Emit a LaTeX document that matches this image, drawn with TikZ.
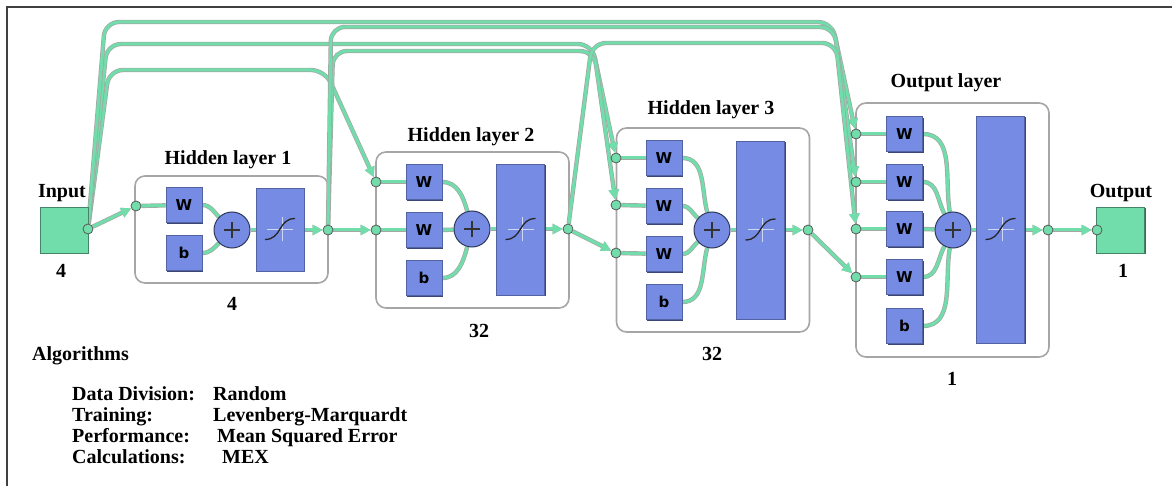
\documentclass[tikz,border=0pt]{standalone}
\usepackage{fontspec}
\setmainfont{Liberation Serif}
\newfontfamily\wfont{DejaVu Sans}
\usetikzlibrary{arrows.meta}
\usetikzlibrary{shadows}
\definecolor{netgreen}{RGB}{112,221,170}
\definecolor{netblue}{RGB}{118,140,228}
\pgfdeclarelayer{back}
\pgfdeclarelayer{mid}
\pgfsetlayers{back,mid,main}

\begin{document}
\begin{tikzpicture}[x=1pt, y=-1pt,
    lbl/.style={font=\fontsize{20}{24}\selectfont\bfseries, anchor=base, inner sep=0pt},
    alg/.style={lbl, anchor=base west},
    layer/.style={draw=black!35, line width=1.6pt, fill=white, rounded corners=10pt, minimum width=193pt, inner sep=0pt},
    bevel/.style={drop shadow={shadow xshift=1.3pt, shadow yshift=-1.3pt, fill=netblue!50!black, opacity=1}},
    wt/.style={draw=netblue!70!black, fill=netblue, line width=0.6pt, bevel, minimum width=36pt, minimum height=35pt, inner sep=0pt, font=\wfont\bfseries\fontsize{15}{15}\selectfont},
    tf/.style={draw=netblue!70!black, fill=netblue, line width=0.6pt, bevel, minimum width=48pt, inner sep=0pt},
    sumc/.style={circle, draw=netblue!40!black, fill=netblue, line width=1pt, minimum size=36pt, inner sep=0pt},
    port/.style={circle, draw=black!65, fill=netgreen, line width=0.8pt, minimum size=10pt, inner sep=0pt},
    io/.style={draw=netgreen!60!black, fill=netgreen, line width=0.6pt, drop shadow={shadow xshift=1.3pt, shadow yshift=-1.3pt, fill=netgreen!50!black, opacity=1}, minimum width=48pt, minimum height=46pt, inner sep=0pt},
    wire/.style={draw=netgreen, line width=3pt, preaction={draw=black!35, line width=4.4pt}},
    link/.style={wire, -{Triangle[length=10pt,width=10pt]}},
    skip/.style={link, rounded corners=14pt}]
  \useasboundingbox (0,0) rectangle (1172,486);
  % frame
  \draw[black!75, line width=2pt] (7,486) -- (7,7) -- (1172,7);

  % layer boxes
  \begin{pgfonlayer}{back}
    \node[layer, minimum height=107pt] (L1) at (231.5,229.5) {};
    \node[layer, minimum height=156pt] (L2) at (472.5,230) {};
    \node[layer, minimum height=204pt] (L3) at (713,230) {};
    \node[layer, minimum height=254pt] (L4) at (952.5,230) {};
  \end{pgfonlayer}

  % labels
  \node[lbl] (inlbl) at (62,198) {Input};
  \node[lbl] (innum) at (61,278) {4};
  \node[lbl] (h1lbl) at (228,165) {Hidden layer 1};
  \node[lbl] (h1num) at (232,310) {4};
  \node[lbl] (h2lbl) at (471,142) {Hidden layer 2};
  \node[lbl] (h2num) at (479,337) {32};
  \node[lbl] (h3lbl) at (711,115) {Hidden layer 3};
  \node[lbl] (h3num) at (712,360) {32};
  \node[lbl] (h4lbl) at (946,88) {Output layer};
  \node[lbl] (h4num) at (952,385) {1};
  \node[lbl] (outlbl) at (1121,198) {Output};
  \node[lbl] (outnum) at (1123,278) {1};

  % algorithms
  \node[alg] (alghead) at (32,360) {Algorithms};
  \node[alg] (dd) at (72,400) {Data Division:};
  \node[alg] (ddv) at (213,400) {Random};
  \node[alg] (tr) at (72,421) {Training:};
  \node[alg] (trv) at (213,421) {Levenberg-Marquardt};
  \node[alg] (pf) at (72,442) {Performance:};
  \node[alg] (pfv) at (217,442) {Mean Squared Error};
  \node[alg] (cl) at (72,463) {Calculations:};
  \node[alg] (clv) at (222,463) {MEX};

  % input and output
  \node[io] (inbox) at (64,230) {};
  \node[port] (inp) at (88,229) {};
  \node[io] (outbox) at (1120.5,230) {};
  \node[port] (outp) at (1097,230) {};

  % hidden layer 1
  \node[port] (p11) at (136,206) {};
  \node[wt] (w11) at (184,205) {W};
  \node[wt] (b1) at (184,253) {b};
  \node[sumc] (s1) at (232,230) {};
  \node[tf, minimum height=83pt] (t1) at (280,229.5) {};
  \node[port] (o1) at (328,230) {};

  % hidden layer 2
  \node[port] (p21) at (376,182) {};
  \node[port] (p22) at (376,230) {};
  \node[wt] (w21) at (424,182) {W};
  \node[wt] (w22) at (424,230) {W};
  \node[wt] (b2) at (424,278) {b};
  \node[sumc] (s2) at (472,229) {};
  \node[tf, minimum height=131pt] (t2) at (520.5,229.5) {};
  \node[port] (o2) at (568,229) {};

  % hidden layer 3
  \node[port] (p31) at (616,158) {};
  \node[port] (p32) at (616,205) {};
  \node[port] (p33) at (616,253) {};
  \node[wt] (w31) at (664,158) {W};
  \node[wt] (w32) at (664,206) {W};
  \node[wt] (w33) at (664,254) {W};
  \node[wt] (b3) at (664,302) {b};
  \node[sumc] (s3) at (712,230) {};
  \node[tf, minimum height=178pt] (t3) at (760.5,230) {};
  \node[port] (o3) at (808,230) {};

  % output layer
  \node[port] (p41) at (856,134) {};
  \node[port] (p42) at (856,182) {};
  \node[port] (p43) at (856,229) {};
  \node[port] (p44) at (856,277) {};
  \node[wt] (w41) at (904.5,134) {W};
  \node[wt] (w42) at (904.5,182) {W};
  \node[wt] (w43) at (904.5,229) {W};
  \node[wt] (w44) at (904.5,277) {W};
  \node[wt] (b4) at (904.5,326) {b};
  \node[sumc] (s4) at (953,230) {};
  \node[tf, minimum height=227pt] (t4) at (1000.5,229.5) {};
  \node[port] (o4) at (1048,230) {};

  % symbols
  \foreach \sn in {s1,s2,s3,s4}
    \draw[black!80, line width=1.6pt] ([xshift=-8pt]\sn.center) -- ([xshift=8pt]\sn.center)
      ([yshift=-8pt]\sn.center) -- ([yshift=8pt]\sn.center);
  \foreach \blk in {t1,t2,t3,t4} {
    \draw[netblue!35!white, line width=1pt] ([xshift=-13pt]\blk.center) -- ([xshift=13pt]\blk.center)
      ([shift={(2pt,-12pt)}]\blk.center) -- ([shift={(2pt,12pt)}]\blk.center);
    \draw[black!85, line width=1.3pt] ([shift={(-15pt,-10pt)}]\blk.center)
      .. controls ([shift={(2pt,-10pt)}]\blk.center) and ([shift={(-2pt,11pt)}]\blk.center)
      .. ([shift={(15pt,11pt)}]\blk.center);
  }

  \begin{pgfonlayer}{mid}
    % inside the layers
    \draw[wire] (p11) -- (w11);
    \draw[wire] (w11.east) to[out=0,in=135] (s1);
    \draw[wire] (b1.east) to[out=0,in=225] (s1);
    \draw[wire] (s1.east) -- (s1.east -| t1.west);
    \draw[link] (t1.east |- o1) -- (o1);

    \draw[wire] (p21) -- (w21);
    \draw[wire] (p22) -- (w22);
    \draw[wire] (w21.east) to[out=0,in=105] (s2);
    \draw[wire] (w22.east) -- (s2);
    \draw[wire] (b2.east) to[out=0,in=255] (s2);
    \draw[wire] (s2.east) -- (s2.east -| t2.west);
    \draw[link] (t2.east |- o2) -- (o2);

    \draw[wire] (p31) -- (w31);
    \draw[wire] (p32) -- (w32);
    \draw[wire] (p33) -- (w33);
    \draw[wire] (w31.east) to[out=0,in=105] (s3);
    \draw[wire] (w32.east) to[out=0,in=140] (s3);
    \draw[wire] (w33.east) to[out=0,in=220] (s3);
    \draw[wire] (b3.east) to[out=0,in=255] (s3);
    \draw[wire] (s3.east) -- (s3.east -| t3.west);
    \draw[link] (t3.east |- o3) -- (o3);

    \draw[wire] (p41) -- (w41);
    \draw[wire] (p42) -- (w42);
    \draw[wire] (p43) -- (w43);
    \draw[wire] (p44) -- (w44);
    \draw[wire] (w41.east) to[out=0,in=100] (s4);
    \draw[wire] (w42.east) to[out=0,in=118] (s4);
    \draw[wire] (w43.east) -- (s4);
    \draw[wire] (w44.east) to[out=0,in=242] (s4);
    \draw[wire] (b4.east) to[out=0,in=260] (s4);
    \draw[wire] (s4.east) -- (s4.east -| t4.west);
    \draw[link] (t4.east |- o4) -- (o4);

    % between the layers
    \draw[link] (inp) -- (p11);
    \draw[skip] (inp) -- (109,70) -- (325,70) -- (p21);
    \draw[skip] (inp) -- (107,44) -- (592,44) -- (p31);
    \draw[skip] (inp) -- (105,22) -- (832,22) -- (p41);
    \draw[link] (o1) -- (p22);
    \draw[skip] (o1) -- (333,51) -- (594,51) -- (p32);
    \draw[skip] (o1) -- (331,27) -- (834,27) -- (p42);
    \draw[link] (o2) -- (p33);
    \draw[skip] (o2) -- (592,43) -- (836,43) -- (p43);
    \draw[link] (o3) -- (p44);
    \draw[link] (o4) -- (outp);
  \end{pgfonlayer}
\end{tikzpicture}
\end{document}
